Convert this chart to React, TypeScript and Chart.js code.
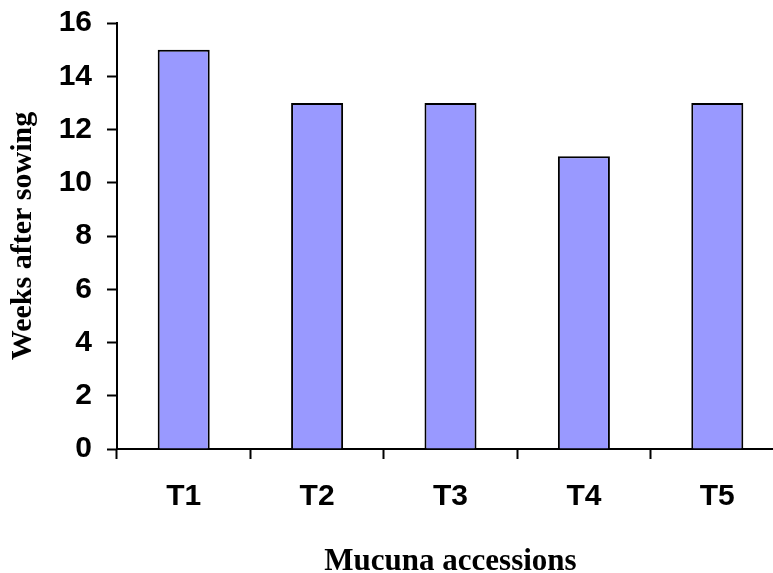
import React, { useEffect, useRef } from "react";
import { Chart, registerables } from "chart.js";

Chart.register(...registerables);

const categories: string[] = ["T1", "T2", "T3", "T4", "T5"];
const weeks: number[] = [15, 13, 13, 11, 13];
const yTitle = "Weeks after sowing";
const xTitle = "Mucuna accessions";

export default function App() {
  const ref = useRef<HTMLCanvasElement | null>(null);

  useEffect(() => {
    if (!ref.current) return;
    document.body.style.overflow = "hidden";
    const chart = new Chart(ref.current, {
      type: "bar",
      data: {
        labels: categories,
        datasets: [
          {
            data: weeks,
            backgroundColor: "#9999FF",
            borderColor: "#000000",
            borderWidth: 2,
            borderSkipped: "bottom",
            barPercentage: 0.39,
            categoryPercentage: 1,
          },
        ],
      },
      options: {
        responsive: false,
        animation: false,
        devicePixelRatio: 1,
        layout: { padding: { top: 23, right: 0, bottom: 0, left: 0 } },
        plugins: {
          legend: { display: false },
          tooltip: { enabled: false },
        },
        scales: {
          x: {
            offset: true,
            grid: {
              display: true,
              offset: true,
              drawOnChartArea: false,
              drawTicks: true,
              tickLength: 10,
              tickWidth: 2,
              color: "#000000",
            },
            border: { display: true, color: "#000000", width: 2 },
            ticks: {
              color: "#000000",
              padding: 20,
              font: { family: "Liberation Sans, Arial", size: 30, weight: "bold" },
            },
            title: {
              display: true,
              text: xTitle,
              color: "#000000",
              padding: { top: 0, bottom: 0 },
              font: { family: "Liberation Serif, Times New Roman", size: 31, weight: "bold", lineHeight: 0.7 },
            },
            afterFit: (scale: any) => {
              scale.height = 124;
              scale.paddingLeft = 0;
              scale.paddingRight = 0;
            },
          },
          y: {
            min: 0,
            max: 16,
            grid: {
              display: true,
              drawOnChartArea: false,
              drawTicks: true,
              tickLength: 10,
              tickWidth: 2,
              color: "#000000",
            },
            border: { display: true, color: "#000000", width: 2 },
            ticks: {
              stepSize: 2,
              color: "#000000",
              padding: 15,
              font: { family: "Liberation Sans, Arial", size: 30, weight: "bold" },
            },
            title: {
              display: true,
              text: yTitle,
              color: "#000000",
              padding: { top: 8, bottom: 0 },
              font: { family: "Liberation Serif, Times New Roman", size: 30, weight: "bold", lineHeight: 1 },
            },
            afterFit: (scale: any) => {
              scale.width = 117;
              scale.paddingTop = 0;
              scale.paddingBottom = 0;
            },
          },
        },
      },
    });
    return () => chart.destroy();
  }, []);

  return (
    <div style={{ position: "fixed", left: 0, top: 0, width: 784, height: 573 }}>
      <canvas ref={ref} width={784} height={573} style={{ display: "block" }} />
    </div>
  );
}
